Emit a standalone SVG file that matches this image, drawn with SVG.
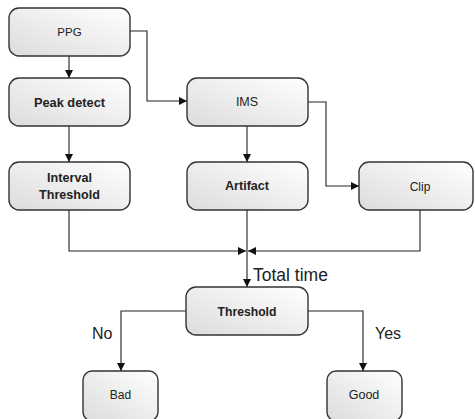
<svg xmlns="http://www.w3.org/2000/svg" width="475" height="419" viewBox="0 0 475 419">
<defs>
<linearGradient id="g" x1="1" y1="0" x2="0" y2="1">
<stop offset="0" stop-color="#ffffff"/>
<stop offset="1" stop-color="#dcdcdc"/>
</linearGradient>
<marker id="ah" viewBox="0 0 10 10" refX="10" refY="5" markerWidth="8" markerHeight="8" markerUnits="userSpaceOnUse" orient="auto">
<path d="M0,0 L10,5 L0,10 Z" fill="#111"/>
</marker>
</defs>
<style>
.box{fill:url(#g);stroke:#333;stroke-width:1.4}
.t{font-family:"Liberation Sans",Arial,sans-serif;fill:#222;text-anchor:middle;dominant-baseline:central}
.b{font-weight:bold}
.c{fill:none;stroke:#222;stroke-width:1.1;marker-end:url(#ah)}
.lbl{font-family:"Liberation Sans",Arial,sans-serif;fill:#222}
</style>
<rect width="475" height="419" fill="#fff"/>
<g id="connectors">
<path class="c" d="M69,56 V78"/>
<path class="c" d="M69,126 V162"/>
<path class="c" d="M130,31 H147 V101 H187"/>
<path class="c" d="M247,126 V162"/>
<path class="c" d="M308,102 H326 V186 H359"/>
<path class="c" d="M69,210 V251 H246"/>
<path class="c" d="M420,210 V251 H248"/>
<path class="c" d="M247,210 V287"/>
<path class="c" d="M186,311 H121 V371"/>
<path class="c" d="M308,311 H363 V371"/>
<text class="lbl" x="253" y="281" font-size="17.5">Total time</text>
<text class="lbl" x="92" y="339" font-size="16">No</text>
<text class="lbl" x="375" y="339" font-size="16">Yes</text>
</g>
<g id="ppg"><rect class="box" x="9" y="8" width="121" height="48" rx="10"/><text class="t" x="69.5" y="32" font-size="11.5">PPG</text></g>
<g id="peak"><rect class="box" x="9" y="78" width="121" height="48" rx="10"/><text class="t b" x="69.5" y="102" font-size="12.8">Peak detect</text></g>
<g id="interval"><rect class="box" x="9" y="162" width="121" height="48" rx="10"/><text class="t b" x="69.5" y="178" font-size="12.6">Interval</text><text class="t b" x="69.5" y="195" font-size="12.6">Threshold</text></g>
<g id="ims"><rect class="box" x="187" y="78" width="121" height="48" rx="10"/><text class="t" x="247" y="102" font-size="12.5">IMS</text></g>
<g id="artifact"><rect class="box" x="187" y="162" width="121" height="48" rx="10"/><text class="t b" x="247" y="186" font-size="12.6">Artifact</text></g>
<g id="clip"><rect class="box" x="359" y="162" width="114" height="48" rx="10"/><text class="t" x="420" y="187" font-size="12">Clip</text></g>
<g id="threshold"><rect class="box" x="186" y="287" width="122" height="48" rx="10"/><text class="t b" x="247" y="312" font-size="12.2">Threshold</text></g>
<g id="bad"><rect class="box" x="83" y="371" width="75" height="50" rx="9"/><text class="t" x="120.5" y="395" font-size="12">Bad</text></g>
<g id="good"><rect class="box" x="327" y="371" width="75" height="50" rx="9"/><text class="t" x="364" y="395" font-size="12.5">Good</text></g>
</svg>
